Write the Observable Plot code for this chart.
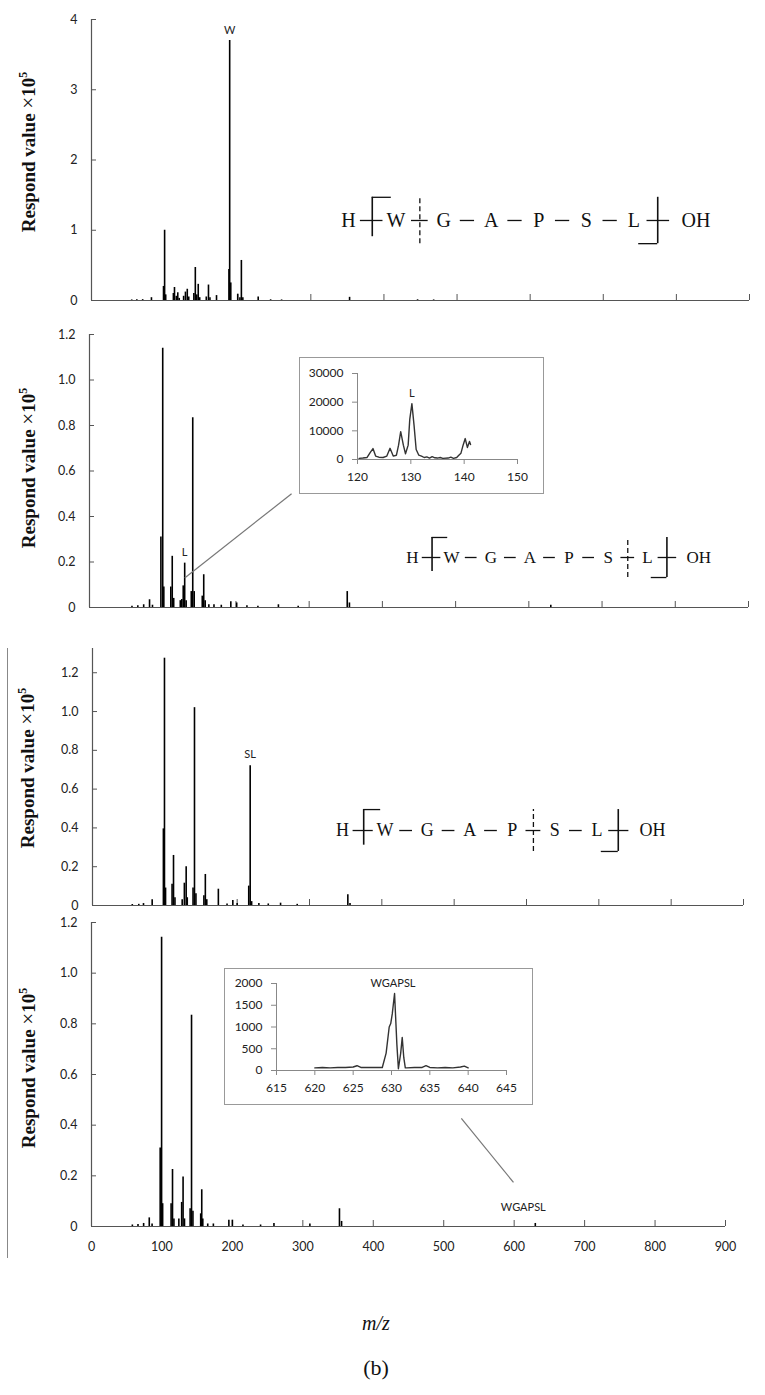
<!DOCTYPE html>
<html><head><meta charset="utf-8">
<script src="https://cdn.jsdelivr.net/npm/d3@7"></script>
<script src="https://cdn.jsdelivr.net/npm/@observablehq/plot@0.6"></script>
<style>
body{margin:0;background:#fff;}
#root{position:relative;width:765px;height:1395px;background:#fff;overflow:hidden;}
.ylab{position:absolute;font-family:"Liberation Serif","Times New Roman",serif;font-weight:bold;font-size:19px;white-space:nowrap;transform:translate(-50%,-50%) rotate(-90deg);color:#111;}
.ylab .x{font-weight:normal;font-size:21px;}
.ylab sup{font-size:12px;}
.inset{position:absolute;border:1px solid #999;background:#fff;box-sizing:border-box;}
.cap{position:absolute;font-family:"Liberation Serif","Times New Roman",serif;color:#111;transform:translate(-50%,-50%);white-space:nowrap;}
</style></head><body><div id="root"></div>
<script>
// ---------- data ----------
const xTicks = [0,100,200,300,400,500,600,700,800,900];
const yTicks1 = [0,1,2,3,4];
const yTicksDec = [0,0.2,0.4,0.6,0.8,1.0,1.2];
const residues = ["H","W","G","A","P","S","L","OH"];

// [m/z, respond value x1e5]
const peaks1 = [[55,0.008],[62,0.01],[70,0.012],[82,0.04],[98.5,0.2],[100,1.0],[101.5,0.08],[112,0.1],[113.5,0.185],[116,0.06],[118,0.11],[120,0.03],[126,0.06],[128.5,0.12],[131,0.16],[133,0.05],[140,0.1],[142,0.47],[144,0.08],[146,0.23],[148,0.04],[157,0.05],[160,0.22],[162,0.04],[171,0.07],[188,0.44],[189,3.7],[190.5,0.25],[200,0.09],[203,0.04],[205,0.57],[207,0.04],[228,0.05],[245,0.01],[260,0.008],[353,0.045],[446,0.01],[468,0.008]];
const peaks2 = [[58,0.006],[66,0.008],[74,0.012],[82,0.034],[86,0.01],[97.5,0.31],[100,1.14],[101.5,0.09],[111,0.09],[113,0.225],[115,0.04],[124,0.03],[126,0.035],[128,0.095],[130,0.195],[132,0.03],[139,0.07],[141,0.834],[143,0.07],[154,0.05],[156,0.144],[158,0.03],[163,0.012],[170,0.012],[180,0.01],[193,0.025],[201,0.02],[215,0.008],[230,0.006],[258,0.012],[285,0.006],[352,0.07],[355,0.02],[630,0.01]];
const peaks3 = [[55,0.005],[64,0.006],[70.5,0.01],[82.5,0.03],[98,0.395],[99.5,1.275],[101,0.09],[110,0.11],[112,0.258],[114,0.04],[124,0.03],[127,0.115],[129.5,0.2],[131,0.04],[139,0.09],[141,1.02],[143,0.06],[154,0.05],[156,0.16],[158,0.03],[174,0.084],[186,0.008],[194,0.026],[200,0.01],[216,0.1],[218,0.72],[220,0.02],[230,0.01],[243,0.008],[260,0.012],[283,0.006],[353,0.055],[356,0.01]];
const peaks4 = [[58,0.006],[66,0.008],[74,0.012],[82,0.034],[86,0.01],[97.5,0.31],[99.5,1.142],[101,0.09],[113,0.09],[115,0.225],[117,0.03],[124,0.03],[128,0.095],[130,0.195],[132,0.03],[140,0.07],[142,0.834],[144,0.06],[155,0.05],[156.5,0.145],[158,0.03],[165,0.01],[173,0.01],[195,0.025],[200,0.025],[215,0.006],[240,0.006],[259,0.012],[310,0.01],[352,0.07],[355,0.02],[630,0.012]];

const inset1XTicks = [120,130,140,150];
const inset1YTicks = [0,10000,20000,30000];
const inset1 = [[120.3,400],[121,500],[121.8,700],[122.4,2500],[122.9,3800],[123.4,1200],[124,800],[124.8,700],[125.5,1200],[126.1,3900],[126.7,1200],[127.3,1500],[127.7,5000],[128.1,9700],[128.6,5000],[129,2000],[129.5,5000],[129.8,14000],[130.2,19500],[130.6,12000],[131,3500],[131.5,1500],[132,1200],[132.5,700],[133,900],[133.5,500],[134,1000],[134.5,600],[135,500],[135.5,700],[136,400],[137,500],[137.5,800],[138,400],[138.6,700],[139,1500],[139.4,2200],[139.8,5000],[140.2,7300],[140.6,4200],[141,6300],[141.2,5200]];
const inset2XTicks = [615,620,625,630,635,640,645];
const inset2YTicks = [0,500,1000,1500,2000];
const inset2 = [[620,60],[621,70],[622,60],[623,70],[624,70],[625,80],[625.5,110],[626,70],[627,70],[628,70],[628.8,70],[629.3,400],[629.7,1000],[629.9,1080],[630.1,1300],[630.4,1770],[630.7,600],[630.9,40],[631.2,400],[631.4,760],[631.6,300],[631.8,60],[632,60],[633,70],[634,70],[634.5,110],[635,70],[636,60],[637,70],[638,60],[639,80],[639.5,100],[640,60]];

// ---------- style ----------
const serif = "Liberation Serif, Times New Roman, serif";
const sans = "Lato, Open Sans, sans-serif";
const axisColor = "#555";
const fmtDec = d => d === 0 ? "0" : d3.format(".1f")(d);
const fmtInt = d3.format("d");
const root = document.getElementById("root");
function place(node, left, top) {
  node.style.position = "absolute"; node.style.left = left + "px"; node.style.top = top + "px";
  root.appendChild(node);
}

function diagram(layout, cleaveBond, fontSize) {
  const {x0, x1, yc, half} = layout;
  const step = (x1 - x0) / 14;
  const tx = i => x0 + i * step;
  const plain = d3.range(7).filter(b => b !== 0 && b !== 6 && b !== cleaveBond);
  const hsegs = [
    ...plain.map(b => ({a: tx(2*b+1) - 0.3*step, b: tx(2*b+1) + 0.3*step, y: yc})),
    {a: tx(1) - 0.5*step, b: tx(1) + 0.45*step, y: yc},
    {a: tx(1), b: tx(1) + 0.8*step, y: yc + half},
    {a: tx(13) - 0.8*step, b: tx(13), y: yc - half},
    {a: tx(13) - 0.45*step, b: tx(13) + 0.5*step, y: yc},
    {a: tx(2*cleaveBond+1) - 0.35*step, b: tx(2*cleaveBond+1) + 0.35*step, y: yc}
  ];
  const vsegs = [{x: tx(1), y1: yc - 0.7*half, y2: yc + half}, {x: tx(13), y1: yc - half, y2: yc + half}];
  const cleave = [{x: tx(2*cleaveBond+1), y1: yc - half, y2: yc + half}];
  return [
    Plot.ruleY(hsegs, {x1: "a", x2: "b", y: "y", stroke: "#111", strokeWidth: 1.3}),
    Plot.ruleX(vsegs, {x: "x", y1: "y1", y2: "y2", stroke: "#111", strokeWidth: 1.6}),
    Plot.ruleX(cleave, {x: "x", y1: "y1", y2: "y2", stroke: "#111", strokeWidth: 1.3, strokeDasharray: "5,3"}),
    Plot.text(residues.slice(0, 7), {x: (d, i) => tx(2*i), y: yc, text: d => d, fontFamily: serif, fontSize, fill: "#111"}),
    Plot.text(residues.slice(7), {x: tx(14), y: yc, text: d => d, textAnchor: "start", fontFamily: serif, fontSize, fill: "#111"})
  ];
}

function panel(o) {
  const marks = [
    Plot.ruleY([0], {stroke: axisColor, strokeWidth: 1.2}),
    Plot.ruleX([0], {stroke: axisColor, strokeWidth: 1.2}),
    Plot.axisY({ticks: o.yTicks, tickSize: -5, fill: "none", stroke: axisColor, label: null}),
    Plot.axisY({ticks: o.yTicks, tickSize: 0, tickPadding: 14, tickFormat: o.fmt, label: null, fill: "#222"}),
    Plot.axisX({ticks: xTicks, tickSize: -6, fill: "none", stroke: axisColor, label: null}),
    Plot.ruleX(o.peaks, {x: d => d[0], y1: 0, y2: d => d[1], stroke: "#000", strokeWidth: 1.6}),
    Plot.text([o.label], {x: "x", y: "y", text: "t", dy: o.label.dy, dx: o.label.dx || 0, fontFamily: sans, fontSize: 11, fill: "#222"})
  ];
  if (o.xLabels) marks.push(Plot.axisX({ticks: xTicks, tickSize: 0, tickPadding: 16, label: null, fill: "#222"}));
  if (o.diagram) marks.push(...diagram(o.diagram.layout, o.diagram.cleave, o.diagram.fontSize));
  if (o.link) marks.push(Plot.link([o.link], {x1: "x1", y1: "y1", x2: "x2", y2: "y2", stroke: "#777", strokeWidth: 1.2}));
  const svg = Plot.plot({
    width: 765, height: o.height,
    marginLeft: o.ml, marginRight: o.mr, marginTop: o.mt, marginBottom: o.mb,
    x: {domain: [0, 900]},
    y: {domain: o.yDomain},
    style: {fontFamily: sans, fontSize: "12.5px", color: "#222", background: "transparent"},
    marks
  });
  place(svg, 0, o.top);
}

panel({top: 0, height: 310, ml: 91, mr: 16, mt: 19, mb: 10, yDomain: [0, 4], yTicks: yTicks1, fmt: fmtInt,
  peaks: peaks1, label: {x: 189, y: 3.7, t: "W", dy: -10},
  diagram: {layout: {x0: 351.5, x1: 807, yc: 1.139, half: 0.33}, cleave: 1, fontSize: 20}});
panel({top: 310, height: 305, ml: 89, mr: 17, mt: 24, mb: 8, yDomain: [0, 1.2], yTicks: yTicksDec, fmt: fmtDec,
  peaks: peaks2, label: {x: 130, y: 0.195, t: "L", dy: -11},
  diagram: {layout: {x0: 441.1, x1: 815.3, yc: 0.2198, half: 0.088}, cleave: 5, fontSize: 17},
  link: {x1: 276, y1: 0.5, x2: 130, y2: 0.13}});
panel({top: 615, height: 300, ml: 92, mr: 22, mt: 33, mb: 10, yDomain: [0, 1.325], yTicks: yTicksDec, fmt: fmtDec,
  peaks: peaks3, label: {x: 218, y: 0.72, t: "SL", dy: -11},
  diagram: {layout: {x0: 345.6, x1: 756.2, yc: 0.3866, half: 0.108}, cleave: 4, fontSize: 18}});
panel({top: 915, height: 345, ml: 91, mr: 40, mt: 7, mb: 34, yDomain: [0, 1.2], yTicks: yTicksDec, fmt: fmtDec,
  peaks: peaks4, label: {x: 630, y: 0.012, t: "WGAPSL", dy: -16, dx: -12}, xLabels: true,
  link: {x1: 525, y1: 0.427, x2: 599, y2: 0.174}});

function inset(o) {
  const box = document.createElement("div");
  box.className = "inset";
  box.style.left = o.left + "px"; box.style.top = o.top + "px";
  box.style.width = o.w + "px"; box.style.height = o.h + "px";
  root.appendChild(box);
  const svg = Plot.plot({
    width: o.w - 2, height: o.h - 2,
    marginLeft: o.ml, marginRight: o.mr, marginTop: o.mt, marginBottom: o.mb,
    x: {domain: o.xDomain}, y: {domain: o.yDomain},
    style: {fontFamily: sans, fontSize: "12px", color: "#222", background: "transparent"},
    marks: [
      Plot.ruleY([o.yDomain[0]], {stroke: "#888"}),
      Plot.ruleX([o.xDomain[0]], {stroke: "#888"}),
      Plot.axisY({ticks: o.yTicks, tickSize: 5, tickPadding: 9, tickFormat: fmtInt, stroke: "#888", fill: "#222", label: null}),
      Plot.axisX({ticks: o.xTicks, tickSize: 5, tickPadding: 8, tickFormat: fmtInt, stroke: "#888", fill: "#222", label: null}),
      Plot.line(o.data, {x: d => d[0], y: d => d[1], stroke: "#333", strokeWidth: 1.4}),
      Plot.text([o.label], {x: "x", y: "y", text: "t", dy: -10, fontFamily: sans, fontSize: 11, fill: "#222"})
    ]
  });
  svg.style.position = "absolute"; svg.style.left = "0px"; svg.style.top = "0px";
  box.appendChild(svg);
}
inset({left: 299, top: 357, w: 245, h: 137, ml: 57, mr: 26, mt: 15, mb: 34,
  xDomain: [120, 150], yDomain: [0, 30000], xTicks: inset1XTicks, yTicks: inset1YTicks, data: inset1,
  label: {x: 130.2, y: 19500, t: "L"}});
inset({left: 224, top: 968, w: 309, h: 137, ml: 51, mr: 26, mt: 14, mb: 34,
  xDomain: [615, 645], yDomain: [0, 2000], xTicks: inset2XTicks, yTicks: inset2YTicks, data: inset2,
  label: {x: 630.2, y: 1770, t: "WGAPSL"}});

// y-axis titles
[[28, 152], [28, 468], [27, 768], [28, 1068]].forEach(([x, y]) => {
  const d = document.createElement("div");
  d.className = "ylab";
  d.innerHTML = "Respond value <span class=\"x\">\u00d7</span>10<sup>5</sup>";
  d.style.left = x + "px"; d.style.top = y + "px";
  root.appendChild(d);
});
// separator line
const sep = document.createElement("div");
sep.style.cssText = "position:absolute;left:7px;top:648px;width:1px;height:610px;background:#888;";
root.appendChild(sep);
// captions
const mz = document.createElement("div");
mz.className = "cap"; mz.style.left = "376px"; mz.style.top = "1323px"; mz.style.fontSize = "20px"; mz.style.fontStyle = "italic";
mz.textContent = "m/z"; root.appendChild(mz);
const b = document.createElement("div");
b.className = "cap"; b.style.left = "376px"; b.style.top = "1368px"; b.style.fontSize = "22px";
b.textContent = "(b)"; root.appendChild(b);
</script></body></html>
